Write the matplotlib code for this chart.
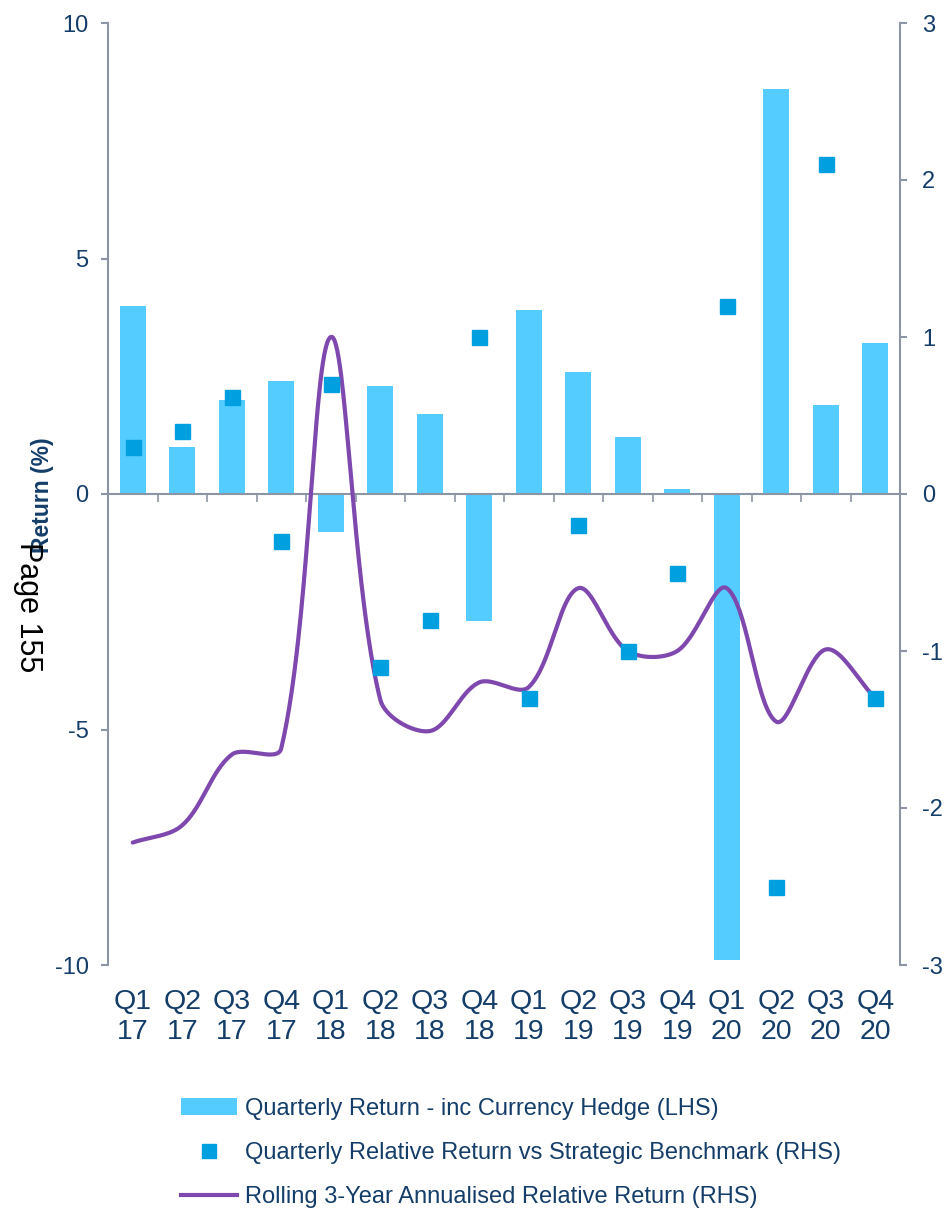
import numpy as np
import matplotlib
matplotlib.use("Agg")
import matplotlib.pyplot as plt
from matplotlib.patches import Patch
from matplotlib.lines import Line2D

plt.rcParams["font.family"] = ["Liberation Sans", "DejaVu Sans"]
plt.rcParams["axes.unicode_minus"] = False

# ---- data ----
quarters = ["Q1\n17", "Q2\n17", "Q3\n17", "Q4\n17",
            "Q1\n18", "Q2\n18", "Q3\n18", "Q4\n18",
            "Q1\n19", "Q2\n19", "Q3\n19", "Q4\n19",
            "Q1\n20", "Q2\n20", "Q3\n20", "Q4\n20"]
quarterly_return = [4.0, 1.0, 2.0, 2.4, -0.8, 2.3, 1.7, -2.7,
                    3.9, 2.6, 1.2, 0.1, -9.9, 8.6, 1.9, 3.2]
relative_return = [0.3, 0.4, 0.62, -0.3, 0.7, -1.1, -0.8, 1.0,
                   -1.3, -0.2, -1.0, -0.5, 1.2, -2.5, 2.1, -1.3]
rolling_3yr = [-2.22, -2.11, -1.66, -1.62, 1.0, -1.31, -1.51, -1.2,
               -1.23, -0.6, -1.0, -1.0, -0.6, -1.45, -0.99, -1.3]

label_bars = "Quarterly Return - inc Currency Hedge (LHS)"
label_points = "Quarterly Relative Return vs Strategic Benchmark (RHS)"
label_line = "Rolling 3-Year Annualised Relative Return (RHS)"

# ---- style ----
TEXT = "#143D69"
AXIS = "#8C95A6"
BAR = "#55CCFF"
POINT = "#009FDF"
LINE = "#7E48AE"


def smooth_curve(ax, xs, ys, steps=60):
    """Smoothed line through every point, built as cubic Bezier segments in
    display space with control arms weighted by neighbouring segment lengths."""
    ax.figure.canvas.draw()
    pts = ax.transData.transform(np.column_stack([xs, ys]).astype(float))
    n = len(pts)
    out_ctrl = np.zeros_like(pts)
    in_ctrl = np.zeros_like(pts)
    for i in range(n):
        prev_p = pts[i - 1] if i > 0 else pts[i]
        next_p = pts[i + 1] if i < n - 1 else pts[i]
        d = next_p - prev_p
        l1 = np.hypot(*(pts[i] - prev_p))
        l2 = np.hypot(*(next_p - pts[i]))
        tot = l1 + l2 if (l1 + l2) > 0 else 1.0
        out_ctrl[i] = pts[i] + d * (l2 / tot) / 3.0
        in_ctrl[i] = pts[i] - d * (l1 / tot) / 3.0
    t = np.linspace(0, 1, steps)[:, None]
    segs = []
    for i in range(n - 1):
        p1, c1, c2, p2 = pts[i], out_ctrl[i], in_ctrl[i + 1], pts[i + 1]
        seg = ((1 - t) ** 3) * p1 + 3 * ((1 - t) ** 2) * t * c1 \
            + 3 * (1 - t) * t ** 2 * c2 + t ** 3 * p2
        segs.append(seg if i == 0 else seg[1:])
    curve = ax.transData.inverted().transform(np.vstack(segs))
    return curve[:, 0], curve[:, 1]


fig = plt.figure(figsize=(9.46, 12.10), dpi=100)
ax = fig.add_axes([108 / 946, 1 - 965 / 1210, 792 / 946, 942 / 1210])
ax2 = ax.twinx()

x = np.arange(len(quarters))

# bars on the left axis
ax.bar(x, quarterly_return, width=0.53, color=BAR, zorder=2)
ax.set_xlim(-0.5, len(quarters) - 0.5)
ax.set_ylim(-10, 10)
ax.set_yticks([-10, -5, 0, 5, 10])
ax.set_yticklabels(["-10", "-5", "0", "5", "10"])

for s in ["top", "right"]:
    ax.spines[s].set_visible(False)
ax.spines["left"].set_color(AXIS)
ax.spines["left"].set_linewidth(1.5)
ax.spines["bottom"].set_position(("data", 0))
ax.spines["bottom"].set_color(AXIS)
ax.spines["bottom"].set_linewidth(1.5)
ax.spines["bottom"].set_zorder(3)

ax.set_xticks(x)
ax.set_xticks(np.arange(0.5, len(quarters) - 1, 1.0), minor=True)
ax.tick_params(axis="x", which="major", length=0, labelbottom=False)
ax.tick_params(axis="x", which="minor", length=5.5, width=1.2, color=AXIS,
               direction="out")
ax.tick_params(axis="y", length=5, width=1.5, color=AXIS, labelcolor=TEXT,
               labelsize=17, pad=9)

# category labels along the bottom edge
sec = ax.secondary_xaxis("bottom")
sec.set_xticks(x)
sec.set_xticklabels(quarters)
sec.spines["bottom"].set_visible(False)
sec.tick_params(length=0, pad=17, labelsize=20.5, labelcolor=TEXT)
for lab in sec.get_xticklabels():
    lab.set_linespacing(1.2)

# right axis: relative returns
ax2.set_ylim(-3, 3)
ax2.set_yticks([-3, -2, -1, 0, 1, 2, 3])
for s in ["top", "bottom", "left"]:
    ax2.spines[s].set_visible(False)
ax2.spines["right"].set_color(AXIS)
ax2.spines["right"].set_linewidth(1.5)
ax2.tick_params(axis="y", length=5, width=1.5, color=AXIS, labelcolor=TEXT,
                labelsize=17, pad=11)

sx, sy = smooth_curve(ax2, x, rolling_3yr)
ax2.plot(sx, sy, color=LINE, lw=3.0, solid_capstyle="round", zorder=3)
ax2.plot(x, relative_return, linestyle="none", marker="s", ms=10.8,
         color=POINT, mec=POINT, zorder=4)

# axis title and page mark
fig.text(42 / 946, 1 - 495 / 1210, "Return (%)", rotation=90, fontsize=16.5,
         fontweight="bold", color=TEXT, ha="center", va="center")
fig.text(28 / 946, 1 - 607 / 1210, "Page 155", rotation=270, fontsize=22,
         color="black", ha="center", va="center")

# legend
handles = [
    Patch(facecolor=BAR, edgecolor="none"),
    Line2D([], [], linestyle="none", marker="s", ms=9.5, color=POINT),
    Line2D([], [], color=LINE, lw=3),
]
fig.legend(handles, [label_bars, label_points, label_line],
           loc="upper left", bbox_to_anchor=(181 / 946, 1 - 1098 / 1210),
           frameon=False, fontsize=17, labelcolor=TEXT, handlelength=2.37,
           handleheight=0.7, handletextpad=0.34, labelspacing=0.93,
           borderpad=0, borderaxespad=0)

fig.savefig("out.png", dpi=100)
